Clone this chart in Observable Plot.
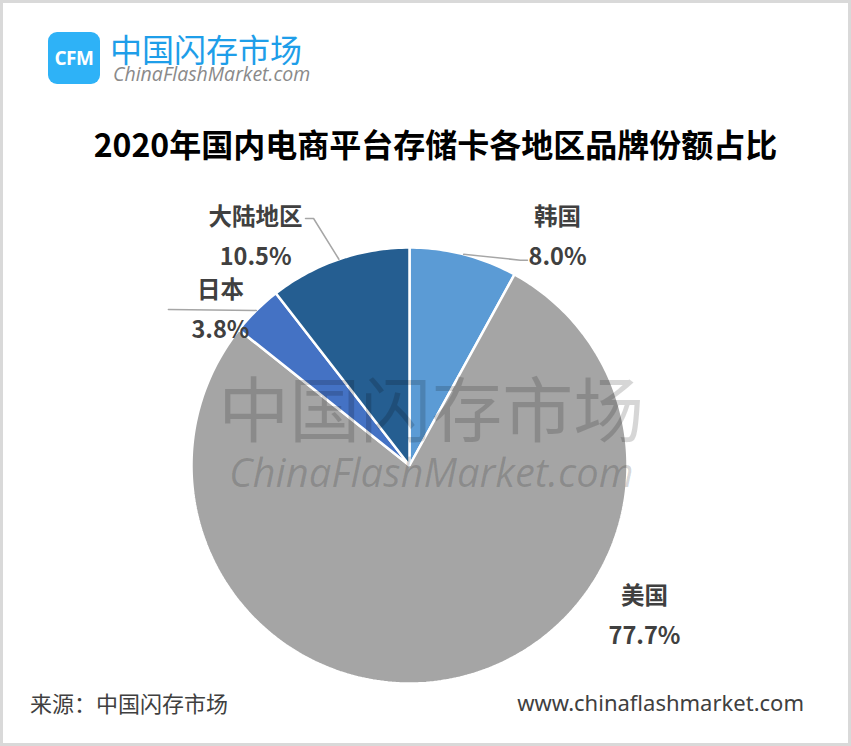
<!DOCTYPE html>
<html>
<head>
<meta charset="utf-8">
<script src="https://cdn.jsdelivr.net/npm/d3@7"></script>
<script src="https://cdn.jsdelivr.net/npm/@observablehq/plot@0.6"></script>
<style>
  html, body { margin: 0; padding: 0; background: #fff; }
  #wrap { position: relative; width: 851px; height: 746px; overflow: hidden; font-family: "Noto Sans CJK SC", "Noto Sans", sans-serif; }
  #wrap svg { position: absolute; left: 0; top: 0; }
  .abs { position: absolute; white-space: nowrap; }
  #frame { position: absolute; left: 0; top: 0; width: 851px; height: 746px; box-sizing: border-box; border: 3px solid #d9d9d9; pointer-events: none; }
  #logoBox { left: 48px; top: 32px; width: 52px; height: 52px; border-radius: 9px; background: #2eb2f7; color: #fff; font: 700 19px "Open Sans", sans-serif; display: flex; align-items: center; justify-content: center; letter-spacing: -0.5px; }
  #logoCn { left: 110px; top: 33px; font-size: 32px; color: #1e9ee9; font-weight: 400; line-height: 30px; }
  #logoEn { left: 113px; top: 63px; font-size: 19.5px; color: #8a8a8a; font-style: italic; font-family: "Open Sans", sans-serif; line-height: 22px; }
  #title { left: 0; width: 871px; top: 120px; text-align: center; font-size: 32px; font-weight: 700; color: #000; line-height: 46px; }
  #src { left: 30px; top: 686px; font-size: 22px; color: #404040; line-height: 32px; }
  #url { right: 47px; top: 686px; font-size: 22px; color: #404040; line-height: 32px; font-family: "Noto Sans", sans-serif; }
</style>
</head>
<body>
<div id="wrap">
  <div id="chart"></div>
  <div class="abs" id="logoBox">CFM</div>
  <div class="abs" id="logoCn">中国闪存市场</div>
  <div class="abs" id="logoEn">ChinaFlashMarket.com</div>
  <div class="abs" id="title">2020年国内电商平台存储卡各地区品牌份额占比</div>
  <div class="abs" id="src">来源：中国闪存市场</div>
  <div class="abs" id="url">www.chinaflashmarket.com</div>
  <div id="frame"></div>
</div>
<script>
// ---- data ----
const categories = ["韩国", "美国", "日本", "大陆地区"];
const shares = [8.0, 77.7, 3.8, 10.5];
const valueLabels = ["8.0%", "77.7%", "3.8%", "10.5%"];
const sliceColors = ["#5b9bd5", "#a5a5a5", "#4472c4", "#255e91"];

// ---- layout (unit-circle coordinates, not data) ----
const labelAnchor = {
  "韩国": [0.679, 1.069],
  "美国": [1.078, -0.670],
  "日本": [-0.867, 0.734],
  "大陆地区": [-0.706, 1.069]
};
const leaderBends = {
  "韩国": [[0.509, 0.942], [0.541, 0.942]],
  "日本": [[-1.106, 0.716]],
  "大陆地区": [[-0.440, 1.133], [-0.477, 1.133]]
};

// ---- build slices via d3.pie ----
const arcs = d3.pie().sort(null).value(d => d.v).startAngle(0).endAngle(2 * Math.PI)(
  categories.map((c, i) => ({c, v: shares[i], label: valueLabels[i]}))
);
const pt = a => [Math.sin(a), Math.cos(a)];
const slicePts = [];
arcs.forEach(a => {
  slicePts.push({c: a.data.c, x: 0, y: 0});
  const n = Math.max(2, Math.ceil((a.endAngle - a.startAngle) / (Math.PI / 180)));
  for (let k = 0; k <= n; k++) {
    const t = a.startAngle + (a.endAngle - a.startAngle) * k / n;
    const [x, y] = pt(t);
    slicePts.push({c: a.data.c, x, y});
  }
});

const labels = arcs.map(a => ({
  c: a.data.c,
  text: a.data.c + "\n" + a.data.label,
  x: labelAnchor[a.data.c][0],
  y: labelAnchor[a.data.c][1]
}));

const leaders = [];
arcs.forEach(a => {
  const bends = leaderBends[a.data.c];
  if (!bends) return;
  const [x, y] = pt((a.startAngle + a.endAngle) / 2);
  leaders.push({c: a.data.c, x, y});
  bends.forEach(b => leaders.push({c: a.data.c, x: b[0], y: b[1]}));
});

const cx = 409, cy = 465, r = 218, W = 851, H = 746;

const chart = Plot.plot({
  width: W,
  height: H,
  marginLeft: cx - r,
  marginRight: W - (cx + r),
  marginTop: cy - r,
  marginBottom: H - (cy + r),
  x: {domain: [-1, 1], axis: null},
  y: {domain: [-1, 1], axis: null},
  color: {domain: categories, range: sliceColors},
  style: {background: "transparent", overflow: "visible"},
  marks: [
    Plot.line(slicePts, {x: "x", y: "y", z: "c", fill: "c", stroke: "#fff", strokeWidth: 2.5, strokeLinejoin: "miter", curve: "linear-closed"}),
    Plot.line(leaders, {x: "x", y: "y", z: "c", stroke: "#a6a6a6", strokeWidth: 1.5}),
    Plot.text(labels, {x: "x", y: "y", text: "text", fontSize: 23.5, fontWeight: 700, fill: "#404040", lineHeight: 1.7, fontFamily: "Noto Sans CJK SC"}),
    Plot.text(["中国闪存市场"], {x: 0.10, y: 0.24, text: d => d, fontSize: 71, fill: "#000", fillOpacity: 0.16, fontFamily: "Noto Sans CJK SC", fontWeight: 400}),
    Plot.text(["ChinaFlashMarket.com"], {x: 0.10, y: -0.04, text: d => d, fontSize: 40, fill: "#000", fillOpacity: 0.16, fontStyle: "italic", fontFamily: "Open Sans"})
  ]
});
document.getElementById("chart").appendChild(chart);
</script>
</body>
</html>
